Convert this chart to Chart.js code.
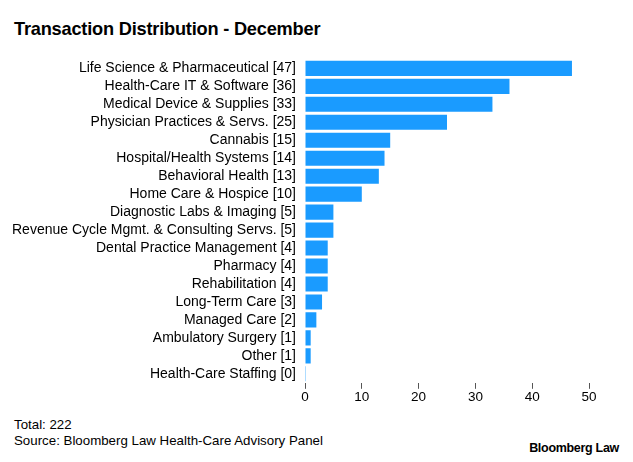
<!DOCTYPE html>
<html>
<head>
<meta charset="utf-8">
<script src="https://cdn.jsdelivr.net/npm/chart.js@4/dist/chart.umd.min.js"></script>
<style>
  html, body { margin: 0; padding: 0; background: #fff; }
  body { width: 633px; height: 462px; position: relative; overflow: hidden; font-family: "Liberation Sans", Arial, sans-serif; color: #000; }
  #title { position: absolute; left: 14px; top: 19px; font-size: 18.2px; font-weight: bold; letter-spacing: -0.2px; }
  #wrap { position: absolute; left: 0; top: 50px; width: 633px; height: 355px; }
  #foot { position: absolute; left: 14px; top: 417px; font-size: 13.3px; line-height: 16px; }
  #brand { position: absolute; right: 14px; top: 441px; font-size: 12.5px; font-weight: bold; letter-spacing: -0.3px; }
</style>
</head>
<body>
<div id="title">Transaction Distribution - December</div>
<div id="wrap"><canvas id="chart"></canvas></div>
<div id="foot">Total: 222<br>Source: Bloomberg Law Health-Care Advisory Panel</div>
<div id="brand">Bloomberg Law</div>
<script>
const categories = [
    "Life Science & Pharmaceutical",
    "Health-Care IT & Software",
    "Medical Device & Supplies",
    "Physician Practices & Servs.",
    "Cannabis",
    "Hospital/Health Systems",
    "Behavioral Health",
    "Home Care & Hospice",
    "Diagnostic Labs & Imaging",
    "Revenue Cycle Mgmt. & Consulting Servs.",
    "Dental Practice Management",
    "Pharmacy",
    "Rehabilitation",
    "Long-Term Care",
    "Managed Care",
    "Ambulatory Surgery",
    "Other",
    "Health-Care Staffing"
];
const counts = [47, 36, 33, 25, 15, 14, 13, 10, 5, 5, 4, 4, 4, 3, 2, 1, 1, 0];
const xTicks = [0, 10, 20, 30, 40, 50];

const labels = categories.map((c, i) => c + " [" + counts[i] + "]");
// zero bar still shows as a thin sliver in the original
const shown = counts.map(v => v === 0 ? 0.15 : v);

function initChart() {
    const canvas = document.getElementById("chart");
    new Chart(canvas, {
        type: "bar",
        data: {
            labels: labels,
            datasets: [{
                data: shown,
                backgroundColor: "#1a9bff",
                barPercentage: 0.84,
                categoryPercentage: 1.0
            }]
        },
        options: {
            indexAxis: "y",
            responsive: true,
            maintainAspectRatio: false,
            animation: false,
            layout: { padding: { left: 0, right: 44, top: 0, bottom: 0 } },
            plugins: { legend: { display: false }, tooltip: { enabled: false } },
            scales: {
                x: {
                    min: 0,
                    max: 50,
                    afterBuildTicks: (axis) => { axis.ticks = xTicks.map(v => ({ value: v })); },
                    border: { display: false },
                    grid: { drawOnChartArea: false, drawTicks: true, tickLength: 6, color: "#555", tickWidth: 1 },
                    ticks: { color: "#000", font: { family: "Liberation Sans", size: 13.5 }, padding: 0 }
                },
                y: {
                    // labels are wider than chart.js allows by default
                    afterFit: (axis) => { axis.width = 305; },
                    border: { display: false },
                    grid: { display: false },
                    ticks: { color: "#000", font: { family: "Liberation Sans", size: 14 }, padding: 1, autoSkip: false }
                }
            }
        }
    });
}

document.addEventListener("DOMContentLoaded", initChart);
</script>
</body>
</html>
